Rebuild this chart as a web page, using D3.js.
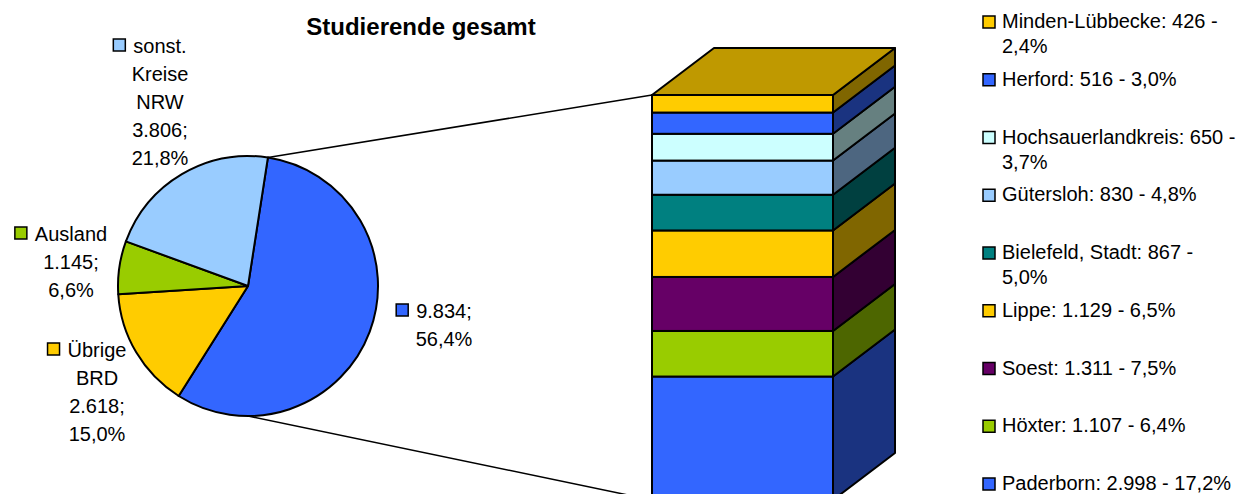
<!DOCTYPE html>
<html>
<head>
<meta charset="utf-8">
<script src="https://cdn.jsdelivr.net/npm/d3@7"></script>
<style>
  body { margin: 0; background: #fff; }
  text { font-family: "Liberation Sans", Arial, sans-serif; fill: #000; }
</style>
</head>
<body>
<div id="chart"></div>
<script>
// Pie: the big slice is broken out into the stacked bar on the right
var pieNames = ["", "Übrige BRD", "Ausland", "sonst. Kreise NRW"];
var pieValues = [9834, 2618, 1145, 3806];
var piePercents = [56.4, 15.0, 6.6, 21.8];
var pieColors = ["#3366FF", "#FFCC00", "#99CC00", "#99CCFF"];

// Bar, bottom to top
var barNames = ["Paderborn", "Höxter", "Soest", "Lippe", "Bielefeld, Stadt",
	"Gütersloh", "Hochsauerlandkreis", "Herford", "Minden-Lübbecke"];
var barValues = [2998, 1107, 1311, 1129, 867, 830, 650, 516, 426];
var barPercents = [17.2, 6.4, 7.5, 6.5, 5.0, 4.8, 3.7, 3.0, 2.4];
var barColors = ["#3366FF", "#99CC00", "#660066", "#FFCC00", "#008080",
	"#99CCFF", "#CCFFFF", "#3366FF", "#FFCC00"];

var title = "Studierende gesamt";

var width = 1243, height = 494;
var fs = "20px";

var de = d3.formatLocale({decimal: ",", thousands: ".", grouping: [3], currency: ["", "€"]});
var fmtInt = de.format(",d");
var fmtPct = function(v){ return de.format(".1f")(v) + "%"; };

function shade(c, k) {
	var r = d3.rgb(c);
	return d3.rgb(r.r * k, r.g * k, r.b * k).formatHex();
}

var svg = d3.select("#chart").append("svg")
	.attr("width", width)
	.attr("height", height);

// title
svg.append("text")
	.attr("x", 421).attr("y", 35)
	.attr("text-anchor", "middle")
	.style("font-size", "24px")
	.style("font-weight", "bold")
	.text(title);

// ---- pie ----
var cx = 248, cy = 286, r = 130;
var startAngle = 8.8 * Math.PI / 180;

var pie = d3.pie().sort(null).value(function(d){ return d; })
	.startAngle(startAngle).endAngle(startAngle + 2 * Math.PI);
var arcs = pie(pieValues);
var arc = d3.arc().innerRadius(0).outerRadius(r);

var gPie = svg.append("g").attr("transform", "translate(" + cx + "," + cy + ")");
gPie.selectAll("path")
	.data(arcs)
	.enter().append("path")
	.attr("d", arc)
	.attr("fill", function(d, i){ return pieColors[i]; })
	.attr("stroke", "#000")
	.attr("stroke-width", 2)
	.attr("stroke-linejoin", "round");

// ---- bar of pie ----
var bx = 652, bw = 181, dx = 62, dy = -47;
var total = d3.sum(barValues);
var y = d3.scaleLinear().domain([0, total]).range([500, 95]);
var cum = d3.cumsum(barValues);
var segs = barValues.map(function(v, i){
	return {name: barNames[i], v: v, y0: y(cum[i] - v), y1: y(cum[i]), color: barColors[i]};
});

var gBar = svg.append("g");
gBar.selectAll("polygon.side")
	.data(segs)
	.enter().append("polygon")
	.attr("class", "side")
	.attr("points", function(d){
		return [[bx + bw, d.y1], [bx + bw + dx, d.y1 + dy], [bx + bw + dx, d.y0 + dy], [bx + bw, d.y0]].join(" ");
	})
	.attr("fill", function(d){ return shade(d.color, 0.5); })
	.attr("stroke", "#000").attr("stroke-width", 2).attr("stroke-linejoin", "round");

gBar.selectAll("rect")
	.data(segs)
	.enter().append("rect")
	.attr("x", bx).attr("width", bw)
	.attr("y", function(d){ return d.y1; })
	.attr("height", function(d){ return d.y0 - d.y1; })
	.attr("fill", function(d){ return d.color; })
	.attr("stroke", "#000").attr("stroke-width", 2);

var topSeg = segs[segs.length - 1];
gBar.append("polygon")
	.attr("points", [[bx, topSeg.y1], [bx + dx, topSeg.y1 + dy], [bx + bw + dx, topSeg.y1 + dy], [bx + bw, topSeg.y1]].join(" "))
	.attr("fill", shade(topSeg.color, 0.75))
	.attr("stroke", "#000").attr("stroke-width", 2).attr("stroke-linejoin", "round");

// connector lines
var a0 = arcs[0].startAngle;
svg.append("line")
	.attr("x1", cx + r * Math.sin(a0)).attr("y1", cy - r * Math.cos(a0))
	.attr("x2", bx).attr("y2", y(total))
	.attr("stroke", "#000").attr("stroke-width", 1.5);
svg.append("line")
	.attr("x1", cx).attr("y1", cy + r)
	.attr("x2", bx).attr("y2", y(0))
	.attr("stroke", "#000").attr("stroke-width", 1.5);

// ---- pie labels ----
var pieLabelPos = [{x: 444, y: 318}, {x: 97, y: 357}, {x: 71, y: 241}, {x: 160, y: 53}];
var lh = 28;

arcs.forEach(function(d, i){
	var lines = pieNames[i] ? pieNames[i].split(" ") : [];
	lines.push(fmtInt(pieValues[i]) + ";");
	lines.push(fmtPct(piePercents[i]));
	var p = pieLabelPos[i];
	var g = svg.append("g");
	var first = null;
	lines.forEach(function(l, j){
		var t = g.append("text")
			.attr("x", p.x).attr("y", p.y + j * lh)
			.attr("text-anchor", "middle")
			.style("font-size", fs)
			.text(l);
		if (j === 0) first = t;
	});
	var w = first.node().getComputedTextLength();
	g.append("rect")
		.attr("x", p.x - w / 2 - 20).attr("y", p.y - 14)
		.attr("width", 12).attr("height", 12)
		.attr("fill", pieColors[i])
		.attr("stroke", "#000").attr("stroke-width", 1.5);
});

// ---- legend ----
var legendOrder = d3.range(barNames.length).reverse();
var ly = d3.scalePoint().domain(legendOrder).range([28, 490]);

legendOrder.forEach(function(i){
	var g = svg.append("g");
	var y0 = ly(i);
	g.append("rect")
		.attr("x", 983).attr("y", y0 - 12)
		.attr("width", 12).attr("height", 12)
		.attr("fill", barColors[i])
		.attr("stroke", "#000").attr("stroke-width", 1.5);
	var label = barNames[i] + ": " + fmtInt(barValues[i]) + " - " + fmtPct(barPercents[i]);
	var t = g.append("text")
		.attr("x", 1002).attr("y", y0)
		.style("font-size", fs)
		.text(label);
	if (t.node().getComputedTextLength() > 236) {
		var words = label.split(" ");
		var last = words.pop();
		t.text(words.join(" "));
		g.append("text")
			.attr("x", 1002).attr("y", y0 + 25)
			.style("font-size", fs)
			.text(last);
	}
});
</script>
</body>
</html>
